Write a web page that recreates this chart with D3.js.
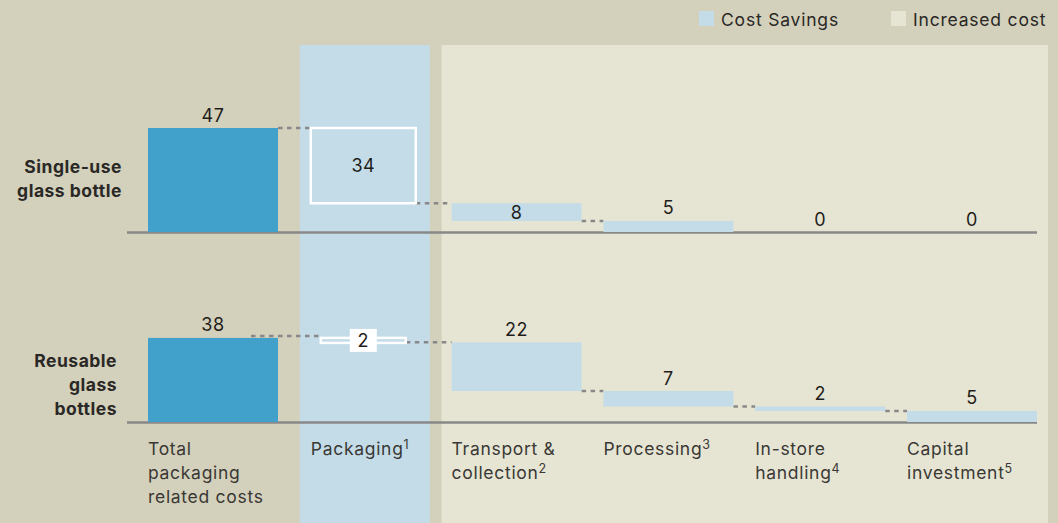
<!DOCTYPE html>
<html>
<head>
<meta charset="utf-8">
<script src="https://cdn.jsdelivr.net/npm/d3@7.9.0/dist/d3.min.js"></script>
<style>
  html, body { margin: 0; padding: 0; background: #d3d0bb; }
  svg { display: block; font-family: Inter, "Noto Sans", sans-serif; }
</style>
</head>
<body>
<svg id="chart" width="1058" height="523"></svg>
<script>
// categories along the bottom (lines + footnote number)
const categories = ['Total', 'Packaging', 'Transport', 'Processing', 'In-store', 'Capital'];
const categoryLines = [
  ['Total', 'packaging', 'related costs'],
  ['Packaging'],
  ['Transport &', 'collection'],
  ['Processing'],
  ['In-store', 'handling'],
  ['Capital', 'investment']
];
const footnotes = ['', '1', '2', '3', '4', '5'];

// the two rows
const rows = ['single', 'reusable'];
const rowLines = [['Single-use', 'glass bottle'], ['Reusable', 'glass', 'bottles']];

// values: first is the total, the rest are the steps down to zero
const singleUse = [47, 34, 8, 5, 0, 0];
const reusable = [38, 2, 22, 7, 2, 5];
const series = [singleUse, reusable];

const legendItems = ['Cost Savings', 'Increased cost'];

const colors = {
  bg: '#d3d0bb',
  savings: '#c3dce8',
  increased: '#e6e5d4',
  total: '#42a1cb',
  axis: '#888888',
  text: '#1f1d1a'
};

const svg = d3.select('#chart');

const x = d3.scaleBand()
  .domain(categories)
  .range([148, 1037])
  .paddingInner(0.1436)
  .paddingOuter(0);
const bw = x.bandwidth();

// bar heights
const h = d3.scaleLinear().domain([0, 47]).range([0, 104]);
// baseline of each row
const rowY = d3.scalePoint().domain(rows).range([232, 422]);

svg.append('rect').attr('width', 1058).attr('height', 523).attr('fill', colors.bg);

// background columns
svg.append('rect')
  .attr('x', x('Packaging')).attr('y', 45)
  .attr('width', bw).attr('height', 523 - 45)
  .attr('fill', colors.savings);
svg.append('rect')
  .attr('x', x('Transport') - 10).attr('y', 45)
  .attr('width', x('Capital') + bw + 11 - (x('Transport') - 10)).attr('height', 523 - 45)
  .attr('fill', colors.increased);

// legend
const legendX = [699, 891];
legendItems.forEach((d, i) => {
  svg.append('rect')
    .attr('x', legendX[i]).attr('y', 11)
    .attr('width', 15).attr('height', 15)
    .attr('fill', i === 0 ? colors.savings : colors.increased);
  svg.append('text')
    .attr('x', legendX[i] + 22).attr('y', 26)
    .attr('font-size', 17.5).attr('letter-spacing', 0.8)
    .attr('fill', '#2a2826')
    .text(d);
});

rows.forEach((row, r) => {
  const values = series[r];
  const base = rowY(row);

  // waterfall steps
  let run = values[0];
  const steps = values.map((v, i) => {
    if (i === 0) return { lo: 0, hi: v, v };
    const s = { lo: run - v, hi: run, v };
    run -= v;
    return s;
  });

  // packaging box is inset inside its column
  const inset = values[1] < 5 ? 21 : 11;
  const left = i => x(categories[i]) + (i === 1 ? inset : 0);
  const right = i => x(categories[i]) + bw - (i === 1 ? inset + 3 : 0);

  // axis line
  svg.append('line')
    .attr('x1', 127).attr('x2', x('Capital') + bw)
    .attr('y1', base + 0.5).attr('y2', base + 0.5)
    .attr('stroke', colors.axis).attr('stroke-width', 2.5);

  // connectors
  for (let i = 0; i < steps.length - 1; i++) {
    const level = i === 0 ? steps[0].hi : steps[i].lo;
    if (level === 0) continue;
    const y = base - h(level);
    // the reusable line starts a little inside the total bar
    const x1 = (i === 0 && inset > 11) ? right(i) - 27 : right(i);
    svg.append('line')
      .attr('x1', x1).attr('x2', left(i + 1))
      .attr('y1', y - (x1 < right(i) ? 2 : 0)).attr('y2', y - (x1 < right(i) ? 2 : 0))
      .attr('stroke', colors.axis).attr('stroke-width', 2.5)
      .attr('stroke-dasharray', '4.5,4.5');
  }

  steps.forEach((s, i) => {
    const top = base - h(s.hi);
    const ht = h(s.hi) - h(s.lo);
    const cx = (left(i) + right(i)) / 2;
    if (i === 1) {
      svg.append('rect')
        .attr('x', left(i)).attr('y', top)
        .attr('width', right(i) - left(i)).attr('height', Math.max(ht, 5))
        .attr('fill', 'none').attr('stroke', '#ffffff').attr('stroke-width', 2.5);
      const cy = top + Math.max(ht, 5) / 2;
      if (ht < 24) {
        svg.append('rect')
          .attr('x', cx - 13.5).attr('y', cy - 11.5)
          .attr('width', 27).attr('height', 23)
          .attr('fill', '#ffffff');
      }
      svg.append('text')
        .attr('x', cx).attr('y', cy + 6.5)
        .attr('text-anchor', 'middle').attr('font-size', 18).attr('letter-spacing', 0.5)
        .attr('fill', colors.text).text(s.v);
      return;
    }
    if (ht > 0) {
      svg.append('rect')
        .attr('x', left(i)).attr('y', top)
        .attr('width', bw).attr('height', ht)
        .attr('fill', i === 0 ? colors.total : colors.savings);
    }
    // the single-use transport value sits inside its bar
    const inside = r === 0 && i === 2;
    svg.append('text')
      .attr('x', cx)
      .attr('y', inside ? top + ht / 2 + 6.5 : top - 6.5)
      .attr('text-anchor', 'middle').attr('font-size', 18).attr('letter-spacing', 0.5)
      .attr('fill', colors.text).text(s.v);
  });

  // row label
  const lines = rowLines[r];
  const firstBase = r === 0 ? 173 : 367;
  const rl = svg.append('text')
    .attr('text-anchor', 'end').attr('font-size', 17.5)
    .attr('letter-spacing', 0.5)
    .attr('font-weight', 700).attr('fill', '#2a2826');
  lines.forEach((ln, k) => {
    rl.append('tspan').attr('x', r === 0 ? 122 : 117).attr('y', firstBase + k * 24).text(ln);
  });
});

// category labels
categories.forEach((c, i) => {
  const lx = x(c) + (i === 1 ? 11 : 0);
  const t = svg.append('text')
    .attr('font-size', 17.5).attr('letter-spacing', 0.7).attr('fill', '#3a3835');
  const lines = categoryLines[i];
  lines.forEach((ln, k) => {
    t.append('tspan').attr('x', lx).attr('y', 455 + k * 24).text(ln);
    if (k === lines.length - 1 && footnotes[i]) {
      t.append('tspan')
        .attr('font-size', 12.5).attr('dy', -6)
        .text(footnotes[i]);
    }
  });
});
</script>
</body>
</html>
